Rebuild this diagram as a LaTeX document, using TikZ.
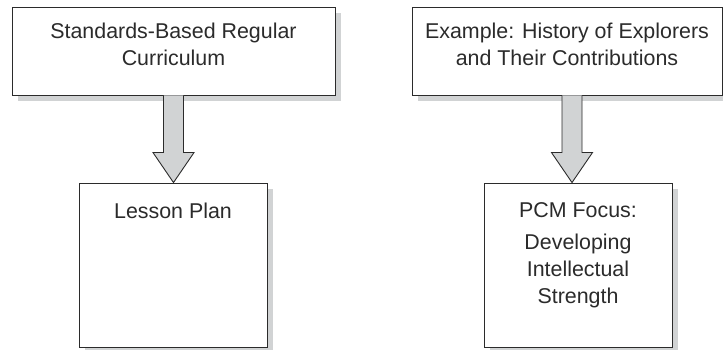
\documentclass[tikz,border=0pt]{standalone}
\usepackage{fontspec}
\setmainfont{Liberation Sans}
\usetikzlibrary{positioning,calc,shadows}
\definecolor{shade}{HTML}{D1D3D4}
\definecolor{ink}{HTML}{2B2B2B}

\newcommand{\blockarrow}[3]{% axis, from node, to node
  \draw[bigarrow] let \p1=(#2.south -| #1), \p2=(#3.north -| #1) in
    (\x1-10pt,\y1) -- (\x1-10pt,\y2+30pt) -- (\x1-20.5pt,\y2+30pt) -- (\x2,\y2)
    -- (\x1+20.5pt,\y2+30pt) -- (\x1+10pt,\y2+30pt) -- (\x1+10pt,\y1);
}

\begin{document}
\begin{tikzpicture}[x=1pt,y=1pt,
    box/.style={draw=ink, line width=0.9pt, fill=white, inner sep=0pt,
      drop shadow={shadow xshift=6pt, shadow yshift=-6pt, fill=shade, opacity=1}},
    boxtext/.style={inner sep=0pt, align=center, text=ink,
      font=\fontsize{21.4}{26.8}\selectfont},
    bigarrow/.style={draw=ink, line width=0.9pt, fill=shade, line join=miter}]
  \useasboundingbox (0,0) rectangle (723,350);

  % left column
  \node[box, minimum width=323pt, minimum height=88pt] (curr) at (173.5,299) {};
  \node[boxtext, anchor=north] (currtxt) at ([yshift=-16pt]curr.north)
    {Standards-Based Regular\\Curriculum};
  \node[box, minimum width=188pt, minimum height=164pt] (plan) at (173,85) {};
  \node[boxtext, anchor=north] (plantxt) at ([yshift=-20pt]plan.north) {Lesson Plan};
  \coordinate (axl) at (173.5,0);
  \blockarrow{axl}{curr}{plan}

  % right column
  \node[box, minimum width=310pt, minimum height=88pt] (expl) at (567,299) {};
  \node[boxtext, anchor=north] (expltxt) at ([yshift=-16pt]expl.north)
    {Example: History of Explorers\\and Their Contributions};
  \node[box, minimum width=188pt, minimum height=164pt] (pcm) at (578,85) {};
  \node[boxtext, anchor=north] (pcmtxt) at ([yshift=-20pt]pcm.north)
    {PCM Focus:\\[5.5pt]Developing\\Intellectual\\Strength};
  \coordinate (axr) at (572,0);
  \blockarrow{axr}{expl}{pcm}
\end{tikzpicture}
\end{document}
